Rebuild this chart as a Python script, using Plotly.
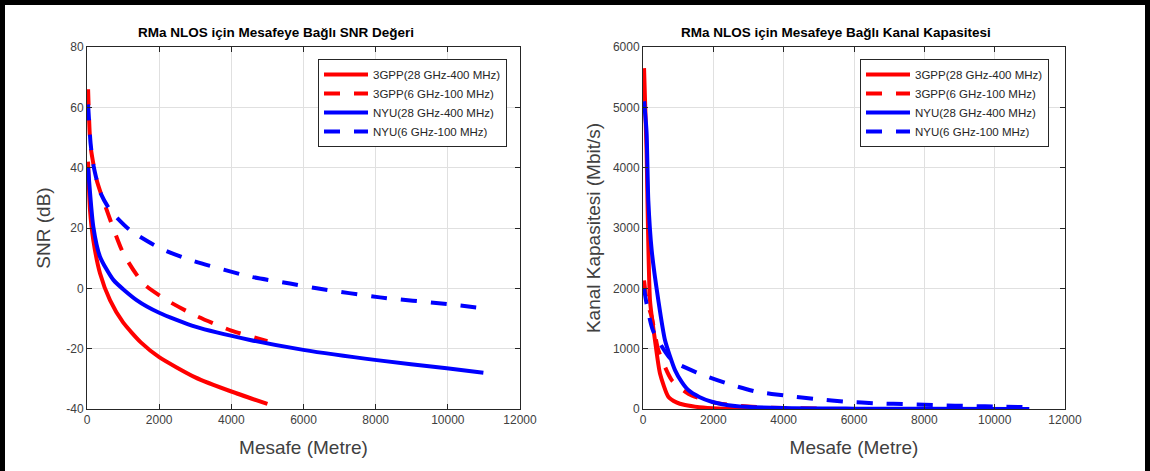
import plotly.graph_objects as go

# ---------------- data ----------------
# Left panel: SNR (dB) vs distance (m)
d_3gpp28 = [30, 83, 175, 360, 637, 1000, 1500, 2000, 3000, 4000, 5000]
snr_3gpp28 = [42, 26, 16, 5, -3.9, -11.3, -18, -22.8, -29.5, -34.2, -38.3]

d_3gpp6 = [30, 100, 268, 545, 1006, 1560, 2208, 3000, 4000, 5000]
snr_3gpp6 = [66, 47, 35.9, 26, 11.6, 1.6, -3.9, -9, -14, -17.5]

d_nyu28 = [30, 175, 360, 730, 1375, 2000, 3000, 4518, 5995, 8030, 9970, 10985]
snr_nyu28 = [40, 20.4, 10.5, 2.8, -3.9, -8.1, -12.7, -17.1, -20.4, -23.8, -26.5, -28]

d_nyu6 = [30, 100, 175, 360, 637, 1190, 2023, 2855, 4518, 5626, 6366, 8120, 9970, 10985]
snr_nyu6 = [61, 48, 41, 32, 26, 19.3, 13.3, 9.4, 3.9, 1.6, 0, -3, -5.2, -6.6]

# Right panel: channel capacity (Mbit/s) vs distance (m)
d_cap_3gpp28 = [30, 100, 199, 341, 483, 720, 950, 1194, 1600, 2130, 3000, 4000, 5000]
cap_3gpp28 = [5650, 4300, 1802, 1140, 590, 204, 110, 66, 30, 10, 3, 1, 0.5]

d_cap_3gpp6 = [30, 105, 247, 436, 816, 1300, 2000, 3000, 4000, 5000]
cap_3gpp6 = [2130, 1800, 1526, 975, 479, 250, 110, 40, 15, 8]

d_cap_nyu28 = [30, 100, 151, 247, 436, 626, 910, 1100, 1288, 1600, 1953, 2616, 4000, 6000, 8000, 10985]
cap_nyu28 = [5100, 4600, 3455, 2628, 1802, 1140, 645, 450, 314, 200, 121, 50, 15, 6, 3, 1]

d_cap_nyu6 = [30, 100, 284, 816, 1564, 2380, 3233, 4086, 4939, 5792, 6645, 7592, 8445, 9298, 10151, 10985]
cap_nyu6 = [2000, 1750, 1300, 810, 595, 425, 286, 220, 165, 121, 94, 78, 61, 50, 38, 30]

names = ["3GPP(28 GHz-400 MHz)", "3GPP(6 GHz-100 MHz)", "NYU(28 GHz-400 MHz)", "NYU(6 GHz-100 MHz)"]
colors = ["#ff0000", "#ff0000", "#0000ff", "#0000ff"]
dashes = ["solid", "16px,14px", "solid", "16px,14px"]

x_ticks = [0, 2000, 4000, 6000, 8000, 10000, 12000]
x_tick_text = ["0", "2000", "4000", "6000", "8000", "10000", "12000"]
y1_ticks = [-40, -20, 0, 20, 40, 60, 80]
y1_tick_text = ["-40", "-20", "0", "20", "40", "60", "80"]
y2_ticks = [0, 1000, 2000, 3000, 4000, 5000, 6000]
y2_tick_text = ["0", "1000", "2000", "3000", "4000", "5000", "6000"]

FONT = "Liberation Sans, Arial, sans-serif"
W, H = 1150, 471

fig = go.Figure()

left = [(d_3gpp28, snr_3gpp28), (d_3gpp6, snr_3gpp6), (d_nyu28, snr_nyu28), (d_nyu6, snr_nyu6)]
right = [(d_cap_3gpp28, cap_3gpp28), (d_cap_3gpp6, cap_3gpp6), (d_cap_nyu28, cap_nyu28), (d_cap_nyu6, cap_nyu6)]

for i, (x, y) in enumerate(left):
    fig.add_trace(go.Scatter(x=x, y=y, mode="lines", name=names[i],
                             line=dict(color=colors[i], width=4, dash=dashes[i], shape="spline", smoothing=0.6),
                             xaxis="x", yaxis="y", legend="legend"))
for i, (x, y) in enumerate(right):
    fig.add_trace(go.Scatter(x=x, y=y, mode="lines", name=names[i],
                             line=dict(color=colors[i], width=4, dash=dashes[i], shape="spline", smoothing=0.6),
                             xaxis="x2", yaxis="y2", legend="legend2"))

axis_common = dict(
    showline=True, linecolor="#262626", linewidth=1, mirror="ticks",
    ticks="inside", ticklen=5, tickcolor="#262626", automargin=False,
    showgrid=True, gridcolor="#e0e0e0", gridwidth=1, zeroline=False,
    tickfont=dict(family=FONT, size=12, color="#404040"),
)
title_font = dict(family=FONT, size=19, color="#404040")

legend_common = dict(xanchor="left", yanchor="top",
                     bgcolor="white", bordercolor="#262626", borderwidth=1,
                     font=dict(family=FONT, size=11.5, color="#262626"), itemwidth=44,
                     tracegroupgap=0)

fig.update_layout(
    width=W, height=H,
    margin=dict(l=0, r=0, t=0, b=0, autoexpand=False),
    paper_bgcolor="white", plot_bgcolor="white",
    font=dict(family=FONT, color="#262626"),
    xaxis=dict(domain=[87/W, 520/W], range=[0, 12000], tickvals=x_ticks, ticktext=x_tick_text, anchor="y",
               title=dict(text="Mesafe (Metre)", font=title_font, standoff=14), **axis_common),
    yaxis=dict(domain=[62/H, 424/H], range=[-40, 80], tickvals=y1_ticks, ticktext=y1_tick_text, anchor="x",
               title=dict(text="SNR (dB)", font=title_font, standoff=10), **axis_common),
    xaxis2=dict(domain=[643/W, 1065/W], range=[0, 12000], tickvals=x_ticks, ticktext=x_tick_text, anchor="y2",
                title=dict(text="Mesafe (Metre)", font=title_font, standoff=14), **axis_common),
    yaxis2=dict(domain=[62/H, 424/H], range=[0, 6000], tickvals=y2_ticks, ticktext=y2_tick_text, anchor="x2",
                title=dict(text="Kanal Kapasitesi (Mbit/s)", font=title_font, standoff=7), **axis_common),
    legend=dict(x=318/W, y=1 - 59/H, **legend_common),
    legend2=dict(x=860/W, y=1 - 59/H, **legend_common),
    annotations=[
        dict(text="<b>RMa NLOS için Mesafeye Bağlı SNR Değeri</b>", x=276/W, y=1 - 33/H,
             xref="paper", yref="paper", xanchor="center", yanchor="middle", showarrow=False,
             font=dict(family=FONT, size=13.5, color="#000000")),
        dict(text="<b>RMa NLOS için Mesafeye Bağlı Kanal Kapasitesi</b>", x=836/W, y=1 - 33/H,
             xref="paper", yref="paper", xanchor="center", yanchor="middle", showarrow=False,
             font=dict(family=FONT, size=13.5, color="#000000")),
    ],
    shapes=[
        dict(type="rect", xref="paper", yref="paper", x0=0, x1=5/W, y0=0, y1=1, fillcolor="black", line=dict(width=0), layer="above"),
        dict(type="rect", xref="paper", yref="paper", x0=0, x1=1, y0=1 - 5/H, y1=1, fillcolor="black", line=dict(width=0), layer="above"),
        dict(type="rect", xref="paper", yref="paper", x0=1 - 5/W, x1=1, y0=0, y1=1, fillcolor="black", line=dict(width=0), layer="above"),
    ],
)

fig.write_html("out.html", config={"displayModeBar": False},
               post_script="document.body.style.margin='0';document.body.style.overflow='hidden';")
